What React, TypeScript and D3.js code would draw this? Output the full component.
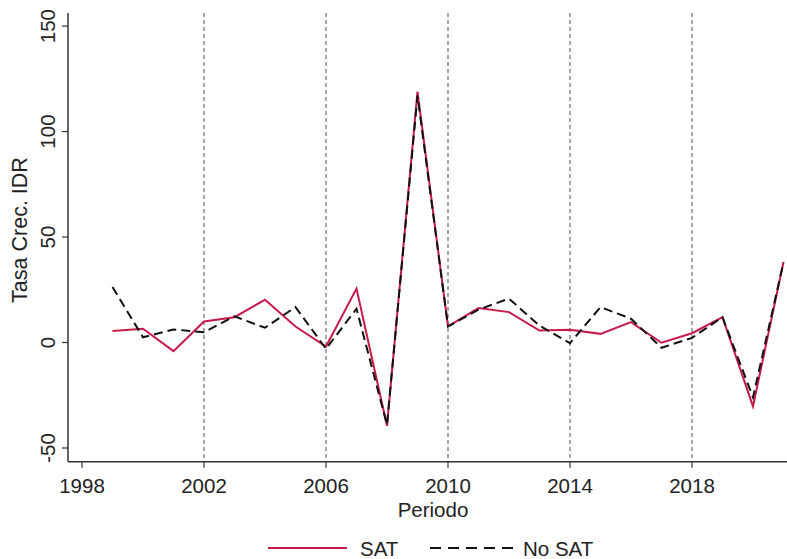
import React from "react";
import * as d3 from "d3";

const years = [1999, 2000, 2001, 2002, 2003, 2004, 2005, 2006, 2007, 2008, 2009, 2010, 2011, 2012, 2013, 2014, 2015, 2016, 2017, 2018, 2019, 2020, 2021];
const satValues = [5.4, 6.5, -4.1, 10, 12, 20.3, 7.6, -1.9, 25.6, -39.5, 118.9, 7.6, 16.3, 14.4, 5.7, 6.0, 4.1, 9.7, -0.1, 4.4, 12, -30.3, 38.2];
const noSatValues = [26.3, 2.5, 6.2, 4.9, 12.4, 7.0, 16.8, -3, 16, -39, 117, 7.6, 15.6, 20.8, 8, -0.3, 16.8, 11.3, -2.5, 2.2, 12, -26, 38];
const xTicks = [1998, 2002, 2006, 2010, 2014, 2018];
const gridYears = [2002, 2006, 2010, 2014, 2018];
const yTicks = [-50, 0, 50, 100, 150];

const W = 787;
const H = 559;
const left = 68;
const right = 787;
const top = 13;
const bottom = 461.7;

const FONT = "'Liberation Sans', Arial, sans-serif";
const RED = "#c8194b";
const FS = 20.5;

export default function App() {
  const x = d3.scaleLinear().domain([1997.541, 2021.115]).range([left, right]);
  const y = d3.scaleLinear().domain([-56.5, 156.2]).range([bottom, top]);

  const sat = years.map((yr, i) => [yr, satValues[i]] as [number, number]);
  const nosat = years.map((yr, i) => [yr, noSatValues[i]] as [number, number]);
  const line = d3
    .line<[number, number]>()
    .x((d) => x(d[0]))
    .y((d) => y(d[1]));

  return (
    <svg
      width={W}
      height={H}
      style={{ position: "absolute", left: 0, top: 0, background: "#fff" }}
      fontFamily={FONT}
    >
      <rect x={0} y={0} width={W} height={H} fill="#fff" />
      {gridYears.map((g) => (
        <line
          key={g}
          x1={x(g)}
          x2={x(g)}
          y1={top}
          y2={bottom}
          stroke="#8a8a8a"
          strokeWidth={1.5}
          strokeDasharray="4,3"
        />
      ))}
      <path d={line(sat) || ""} fill="none" stroke={RED} strokeWidth={2} strokeLinejoin="miter" />
      <path
        d={line(nosat) || ""}
        fill="none"
        stroke="#111"
        strokeWidth={2}
        strokeDasharray="9,5"
      />
      {/* axes */}
      <line x1={left} x2={left} y1={top} y2={bottom} stroke="#333" strokeWidth={1.5} />
      <line x1={left} x2={right} y1={bottom} y2={bottom} stroke="#333" strokeWidth={1.5} />
      {yTicks.map((t) => (
        <g key={t}>
          <line x1={left - 6} x2={left} y1={y(t)} y2={y(t)} stroke="#333" strokeWidth={1.2} />
          <text
            transform={`translate(${left - 13},${y(t)}) rotate(-90)`}
            textAnchor="middle"
            fontSize={FS}
            fill="#222"
          >
            {t}
          </text>
        </g>
      ))}
      {xTicks.map((t) => (
        <g key={t}>
          <line x1={x(t)} x2={x(t)} y1={bottom} y2={bottom + 6} stroke="#333" strokeWidth={1.2} />
          <text x={x(t)} y={493} textAnchor="middle" fontSize={FS} fill="#222">
            {t}
          </text>
        </g>
      ))}
      <text x={433} y={517} textAnchor="middle" fontSize={FS} fill="#222">
        Periodo
      </text>
      <text
        transform={`translate(27,${230}) rotate(-90)`}
        textAnchor="middle"
        fontSize={21.5}
        fill="#222"
      >
        Tasa Crec. IDR
      </text>
      {/* legend */}
      <line x1={268} x2={347} y1={548} y2={548} stroke={RED} strokeWidth={2} />
      <text x={360} y={555.5} fontSize={FS} fill="#222">
        SAT
      </text>
      <line x1={430} x2={515} y1={548} y2={548} stroke="#111" strokeWidth={2} strokeDasharray="11,7" />
      <text x={523} y={555.5} fontSize={FS} fill="#222">
        No SAT
      </text>
    </svg>
  );
}
